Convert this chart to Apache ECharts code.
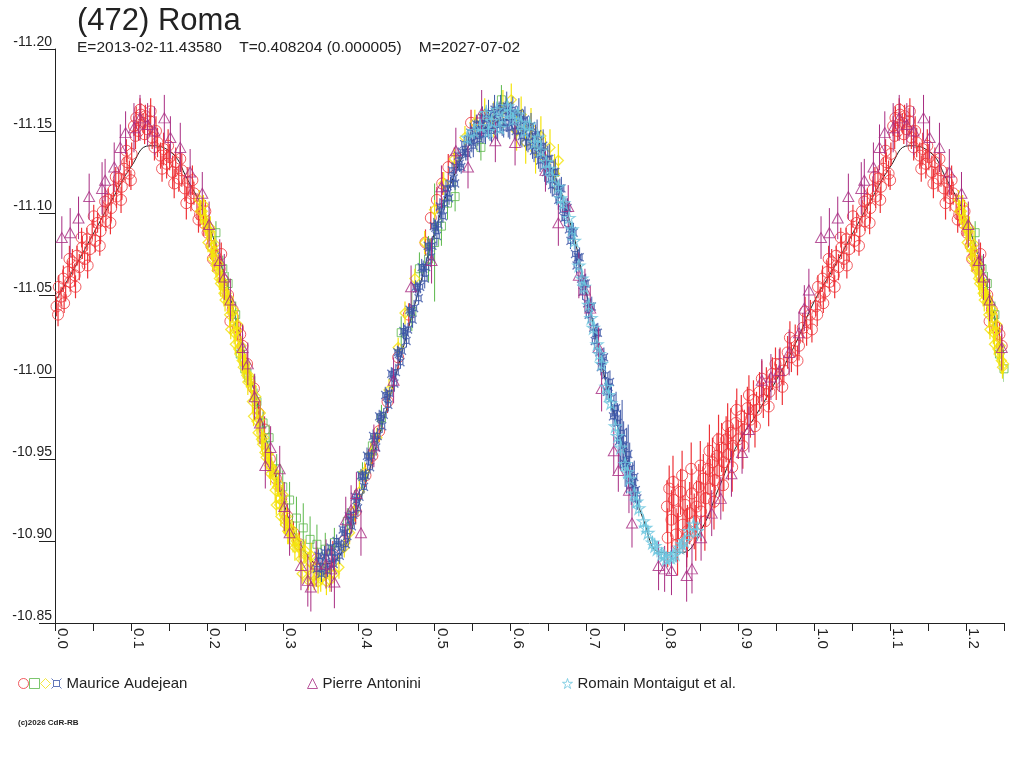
<!DOCTYPE html>
<html>
<head>
<meta charset="utf-8">
<title>(472) Roma</title>
<style type="text/css">
html, body { margin: 0; padding: 0; background: #fff; }
#chart { width: 1024px; height: 768px; }
</style>
<script type="text/javascript" src="https://cdn.jsdelivr.net/npm/echarts@6/dist/echarts.min.js"></script>
</head>
<body>
<div id="chart"></div>
<script type="text/javascript">
// each point: [phase, reduced mag, error]
var audejeanRed = [
	[0.002,-11.043,0.006],[0.005,-11.055,0.007],[0.008,-11.049,0.006],[0.011,-11.060,0.008],[0.014,-11.052,0.006],
	[0.017,-11.064,0.007],[0.020,-11.058,0.006],[0.023,-11.070,0.008],[0.026,-11.062,0.007],[0.029,-11.074,0.006],
	[0.032,-11.067,0.008],[0.036,-11.079,0.007],[0.039,-11.072,0.006],[0.042,-11.084,0.007],[0.046,-11.078,0.008],
	[0.049,-11.090,0.006],[0.053,-11.083,0.007],[0.056,-11.094,0.006],[0.060,-11.089,0.008],[0.063,-11.101,0.007],
	[0.067,-11.095,0.006],[0.070,-11.108,0.007],[0.074,-11.103,0.008],[0.077,-11.114,0.006],[0.081,-11.110,0.007],
	[0.084,-11.121,0.006],[0.088,-11.116,0.008],[0.091,-11.127,0.007],[0.095,-11.131,0.006],[0.098,-11.124,0.008],
	[0.101,-11.136,0.007],[0.104,-11.153,0.006],[0.107,-11.158,0.007],[0.110,-11.150,0.006],[0.113,-11.160,0.007],
	[0.116,-11.155,0.006],[0.119,-11.159,0.007],[0.122,-11.151,0.006],[0.125,-11.156,0.008],[0.128,-11.146,0.007],
	[0.131,-11.140,0.008],[0.135,-11.143,0.009],[0.139,-11.135,0.008],[0.143,-11.139,0.010],[0.147,-11.130,0.009],
	[0.151,-11.134,0.008],[0.155,-11.125,0.010],[0.159,-11.131,0.009],[0.163,-11.121,0.008],[0.167,-11.126,0.010],
	[0.171,-11.115,0.008],[0.175,-11.119,0.009],[0.179,-11.109,0.008],[0.183,-11.112,0.007],[0.187,-11.104,0.008],
	[0.191,-11.099,0.007],[0.196,-11.094,0.008],[0.201,-11.088,0.007],[0.206,-11.080,0.008],[0.211,-11.074,0.007],
	[0.217,-11.066,0.008],[0.222,-11.059,0.007],[0.228,-11.050,0.008],[0.234,-11.041,0.007],[0.241,-11.030,0.008],
	[0.247,-11.019,0.007],
	[0.004,-11.038,0.007],[0.012,-11.045,0.006],[0.019,-11.072,0.008],[0.027,-11.055,0.007],[0.035,-11.085,0.006],
	[0.043,-11.068,0.008],[0.051,-11.098,0.007],[0.059,-11.080,0.006],[0.066,-11.107,0.008],[0.073,-11.094,0.007],
	[0.080,-11.122,0.006],[0.087,-11.108,0.008],[0.094,-11.138,0.007],[0.100,-11.120,0.006],[0.106,-11.147,0.008],
	[0.112,-11.163,0.007],[0.118,-11.148,0.006],[0.126,-11.162,0.008],[0.133,-11.150,0.009],[0.141,-11.127,0.008],
	[0.149,-11.141,0.010],[0.157,-11.118,0.009],[0.165,-11.133,0.008],[0.173,-11.106,0.010],[0.181,-11.120,0.009],
	[0.189,-11.096,0.008],[0.198,-11.101,0.007],[0.208,-11.072,0.008],[0.219,-11.075,0.007],[0.231,-11.034,0.008],
	[0.244,-11.026,0.007],
	[0.253,-11.008,0.007],[0.262,-10.993,0.008],[0.268,-10.978,0.007],[0.276,-10.968,0.008],[0.283,-10.950,0.007],
	[0.291,-10.938,0.008],[0.298,-10.926,0.007],[0.306,-10.915,0.008],[0.314,-10.905,0.007],[0.322,-10.898,0.008],
	[0.345,-10.889,0.007],[0.366,-10.892,0.008],[0.381,-10.900,0.007],[0.396,-10.918,0.008],[0.409,-10.940,0.007],
	[0.418,-10.952,0.008],[0.427,-10.967,0.007],
	[0.438,-10.985,0.007],[0.452,-11.012,0.008],[0.466,-11.038,0.007],[0.488,-11.082,0.008],[0.495,-11.097,0.007],
	[0.503,-11.108,0.008],[0.510,-11.118,0.007],[0.518,-11.128,0.008],[0.526,-11.133,0.007],[0.548,-11.155,0.008],
	[0.556,-11.152,0.007],
	[0.806,-10.921,0.016],[0.809,-10.932,0.014],[0.812,-10.913,0.018],[0.815,-10.925,0.015],[0.818,-10.904,0.016],
	[0.821,-10.918,0.017],[0.824,-10.930,0.014],[0.827,-10.910,0.018],[0.830,-10.922,0.015],[0.833,-10.906,0.016],
	[0.836,-10.917,0.019],[0.839,-10.929,0.015],[0.842,-10.912,0.017],[0.845,-10.921,0.016],[0.848,-10.933,0.014],
	[0.851,-10.918,0.018],[0.854,-10.938,0.015],[0.857,-10.926,0.017],[0.860,-10.944,0.016],[0.863,-10.932,0.018],
	[0.866,-10.948,0.015],[0.869,-10.937,0.017],[0.872,-10.952,0.014],[0.875,-10.943,0.016],[0.878,-10.957,0.015],
	[0.881,-10.948,0.017],[0.884,-10.962,0.014],[0.887,-10.953,0.016],[0.890,-10.966,0.015],[0.893,-10.958,0.013],
	[0.897,-10.972,0.014],[0.900,-10.962,0.012],[0.904,-10.976,0.013],[0.908,-10.968,0.012],[0.912,-10.981,0.013],
	[0.916,-10.974,0.011],[0.920,-10.986,0.012],[0.924,-10.980,0.011],[0.928,-10.991,0.012],[0.933,-10.986,0.011],
	[0.937,-10.996,0.010],[0.941,-10.991,0.011],[0.945,-11.002,0.010],[0.950,-10.997,0.011],[0.955,-11.008,0.010],
	[0.960,-11.004,0.009],[0.965,-11.015,0.010],[0.970,-11.012,0.009],[0.975,-11.022,0.010],[0.980,-11.019,0.009],
	[0.985,-11.030,0.009],[0.990,-11.027,0.008],[0.995,-11.038,0.009],
	[0.807,-10.902,0.018],[0.814,-10.936,0.016],[0.820,-10.898,0.019],[0.826,-10.940,0.015],[0.832,-10.902,0.018],
	[0.838,-10.944,0.016],[0.844,-10.905,0.017],[0.850,-10.946,0.015],[0.856,-10.912,0.018],[0.862,-10.955,0.016],
	[0.868,-10.924,0.017],[0.874,-10.962,0.015],[0.880,-10.934,0.016],[0.886,-10.970,0.014],[0.892,-10.945,0.015],
	[0.898,-10.980,0.013],[0.906,-10.958,0.014],[0.914,-10.989,0.012],[0.922,-10.970,0.013],[0.931,-10.999,0.011],
	[0.940,-10.982,0.012],[0.949,-11.008,0.010],[0.958,-10.994,0.011],[0.968,-11.024,0.010],[0.978,-11.010,0.009],
	[0.988,-11.040,0.009],[0.997,-11.029,0.008]
];
var audejeanGreen = [
	[0.212,-11.088,0.007],[0.221,-11.066,0.008],[0.228,-11.057,0.007],[0.238,-11.038,0.008],[0.244,-11.014,0.007],
	[0.250,-11.005,0.008],[0.258,-10.998,0.007],[0.266,-10.985,0.008],[0.274,-10.972,0.007],[0.282,-10.963,0.008],
	[0.292,-10.944,0.009],[0.300,-10.933,0.010],[0.309,-10.925,0.011],[0.318,-10.914,0.013],[0.327,-10.908,0.015],
	[0.336,-10.901,0.014],[0.345,-10.898,0.012],[0.356,-10.895,0.010],[0.368,-10.899,0.009],[0.385,-10.912,0.008],
	[0.405,-10.940,0.008],[0.418,-10.958,0.007],[0.430,-10.975,0.008],[0.456,-11.027,0.010],[0.470,-11.040,0.012],
	[0.480,-11.066,0.010],[0.492,-11.072,0.014],[0.500,-11.082,0.036],[0.509,-11.092,0.012],[0.517,-11.106,0.010],
	[0.527,-11.110,0.009],[0.561,-11.140,0.008],[0.588,-11.169,0.009]
];
var audejeanYellow = [
	[0.190,-11.108,0.006],[0.194,-11.101,0.008],[0.197,-11.097,0.006],[0.200,-11.091,0.007],[0.203,-11.089,0.006],
	[0.206,-11.079,0.008],[0.209,-11.077,0.006],[0.212,-11.068,0.007],[0.215,-11.069,0.006],[0.218,-11.057,0.008],
	[0.221,-11.058,0.006],[0.224,-11.047,0.007],[0.227,-11.049,0.006],[0.230,-11.038,0.008],[0.233,-11.039,0.006],
	[0.236,-11.027,0.007],[0.239,-11.028,0.006],[0.242,-11.017,0.008],[0.245,-11.019,0.006],[0.248,-11.006,0.007],
	[0.251,-11.008,0.006],[0.254,-10.997,0.008],[0.257,-10.997,0.006],[0.260,-10.985,0.007],[0.263,-10.986,0.006],
	[0.266,-10.973,0.008],[0.269,-10.974,0.006],[0.272,-10.962,0.007],[0.275,-10.963,0.006],[0.278,-10.951,0.008],
	[0.281,-10.953,0.006],[0.284,-10.941,0.007],[0.287,-10.943,0.006],[0.290,-10.931,0.008],[0.293,-10.933,0.006],
	[0.296,-10.922,0.007],[0.299,-10.924,0.006],[0.302,-10.913,0.008],[0.305,-10.915,0.006],[0.308,-10.905,0.007],
	[0.312,-10.907,0.006],[0.316,-10.896,0.008],[0.320,-10.899,0.006],[0.324,-10.889,0.007],[0.328,-10.892,0.006],
	[0.332,-10.883,0.008],[0.336,-10.887,0.006],[0.340,-10.879,0.007],[0.345,-10.884,0.006],[0.350,-10.877,0.008],
	[0.356,-10.882,0.006],[0.362,-10.876,0.007],[0.368,-10.880,0.006],[0.374,-10.884,0.007],
	[0.1915,-11.101,0.007],[0.1955,-11.105,0.006],[0.1985,-11.094,0.008],[0.2015,-11.082,0.006],[0.2045,-11.091,0.007],
	[0.2075,-11.072,0.006],[0.2105,-11.081,0.008],[0.2135,-11.065,0.006],[0.2165,-11.060,0.007],[0.2195,-11.059,0.006],
	[0.2225,-11.051,0.008],[0.2255,-11.051,0.006],[0.2285,-11.046,0.007],[0.2315,-11.029,0.006],[0.2345,-11.041,0.008],
	[0.2375,-11.020,0.006],[0.2405,-11.032,0.007],[0.2435,-11.014,0.006],[0.2465,-11.010,0.008],[0.2495,-11.008,0.006],
	[0.2525,-11.001,0.007],[0.2555,-11.001,0.006],[0.2585,-10.994,0.008],[0.2615,-10.976,0.006],[0.2645,-10.988,0.007],
	[0.2675,-10.966,0.006],[0.2705,-10.978,0.008],[0.2735,-10.959,0.006],[0.2765,-10.954,0.007],[0.2795,-10.953,0.006],
	[0.2825,-10.946,0.008],[0.2855,-10.945,0.006],[0.2885,-10.940,0.007],[0.2915,-10.922,0.006],[0.2945,-10.935,0.008],
	[0.2975,-10.915,0.006],[0.3005,-10.928,0.007],[0.3035,-10.910,0.006],[0.3065,-10.906,0.008],[0.3095,-10.907,0.006],
	[0.3135,-10.900,0.007],[0.3175,-10.900,0.006],[0.3215,-10.896,0.008],[0.3255,-10.880,0.006],[0.3295,-10.894,0.007],
	[0.3335,-10.876,0.006],[0.3375,-10.891,0.008],[0.3415,-10.876,0.006],[0.3465,-10.875,0.007],[0.3515,-10.879,0.006],
	[0.3575,-10.875,0.008],[0.3635,-10.880,0.006],
	[0.381,-10.896,0.006],[0.388,-10.905,0.007],[0.394,-10.918,0.006],[0.401,-10.930,0.007],[0.408,-10.942,0.006],
	[0.416,-10.953,0.007],[0.424,-10.963,0.006],[0.440,-10.992,0.007],[0.452,-11.018,0.006],[0.461,-11.039,0.007],
	[0.474,-11.060,0.006],[0.487,-11.082,0.007],[0.500,-11.102,0.006],[0.512,-11.118,0.007],[0.526,-11.133,0.006],
	[0.540,-11.146,0.007],[0.553,-11.155,0.008],
	[0.566,-11.160,0.010],[0.578,-11.157,0.011],[0.590,-11.163,0.012],[0.601,-11.169,0.010],[0.608,-11.150,0.012],
	[0.614,-11.160,0.011],[0.620,-11.143,0.013],[0.627,-11.152,0.012],[0.633,-11.138,0.014],[0.640,-11.147,0.012],
	[0.646,-11.133,0.013],[0.652,-11.140,0.011],[0.658,-11.124,0.012],[0.663,-11.132,0.010]
];
var audejeanBlue = [
	[0.345,-10.883,0.004],[0.349,-10.888,0.004],[0.353,-10.884,0.005],[0.357,-10.890,0.004],[0.361,-10.886,0.004],
	[0.365,-10.893,0.005],[0.369,-10.890,0.004],[0.373,-10.898,0.004],[0.377,-10.896,0.005],[0.381,-10.905,0.004],
	[0.385,-10.903,0.004],[0.389,-10.913,0.005],[0.393,-10.916,0.004],[0.397,-10.925,0.004],[0.401,-10.927,0.005],
	[0.405,-10.939,0.004],[0.409,-10.940,0.004],[0.413,-10.951,0.005],[0.417,-10.952,0.004],[0.421,-10.962,0.004],
	[0.425,-10.964,0.005],[0.429,-10.975,0.004],[0.433,-10.977,0.004],[0.437,-10.988,0.005],[0.441,-10.990,0.004],
	[0.445,-11.001,0.004],[0.449,-11.003,0.005],[0.453,-11.014,0.004],[0.457,-11.016,0.004],[0.461,-11.027,0.005],
	[0.465,-11.029,0.004],[0.469,-11.040,0.004],[0.473,-11.042,0.005],[0.477,-11.054,0.004],[0.481,-11.055,0.004],
	[0.485,-11.066,0.005],[0.489,-11.067,0.006],[0.493,-11.079,0.005],[0.497,-11.080,0.006],[0.501,-11.091,0.005],
	[0.505,-11.093,0.006],[0.509,-11.102,0.005],[0.513,-11.106,0.004],[0.517,-11.112,0.005],[0.521,-11.118,0.004],
	[0.525,-11.121,0.005],[0.529,-11.128,0.004],[0.533,-11.130,0.005],[0.537,-11.137,0.004],[0.541,-11.137,0.005],
	[0.545,-11.145,0.004],[0.549,-11.143,0.006],[0.553,-11.150,0.007],[0.557,-11.147,0.006],[0.561,-11.154,0.008],
	[0.565,-11.150,0.007],[0.569,-11.157,0.006],[0.573,-11.152,0.008],[0.577,-11.160,0.007],[0.581,-11.154,0.009],
	[0.585,-11.161,0.007],[0.589,-11.155,0.008],[0.593,-11.162,0.006],[0.597,-11.155,0.009],[0.601,-11.161,0.007],
	[0.605,-11.153,0.008],[0.609,-11.159,0.006],[0.613,-11.150,0.009],[0.617,-11.156,0.007],[0.621,-11.146,0.008],
	[0.625,-11.152,0.006],[0.629,-11.141,0.008],[0.633,-11.147,0.007],[0.637,-11.136,0.009],[0.641,-11.140,0.007],
	[0.645,-11.129,0.010],[0.649,-11.133,0.008],[0.653,-11.121,0.009],[0.657,-11.125,0.007],[0.661,-11.113,0.008],
	[0.665,-11.115,0.006],[0.669,-11.102,0.007],[0.673,-11.104,0.005],[0.677,-11.090,0.006],[0.681,-11.089,0.005],
	[0.685,-11.075,0.006],[0.689,-11.073,0.005],[0.693,-11.060,0.006],[0.697,-11.057,0.005],[0.701,-11.045,0.006],
	[0.705,-11.043,0.005],[0.709,-11.030,0.006],[0.713,-11.027,0.005],[0.717,-11.015,0.006],[0.721,-11.010,0.005],
	[0.725,-11.001,0.006],[0.729,-10.994,0.005],[0.733,-10.987,0.007],[0.737,-10.978,0.006],[0.741,-10.972,0.012],
	[0.745,-10.962,0.018],[0.749,-10.958,0.015],[0.753,-10.949,0.020],[0.757,-10.944,0.016],[0.761,-10.936,0.012],
	[0.765,-10.931,0.008],
	[0.347,-10.891,0.004],[0.351,-10.880,0.005],[0.355,-10.893,0.004],[0.359,-10.882,0.004],[0.363,-10.896,0.005],
	[0.367,-10.886,0.004],[0.371,-10.900,0.004],[0.375,-10.891,0.005],[0.379,-10.907,0.004],[0.383,-10.898,0.004],
	[0.387,-10.915,0.005],[0.391,-10.909,0.004],[0.395,-10.927,0.004],[0.399,-10.920,0.005],[0.403,-10.940,0.004],
	[0.407,-10.933,0.004],[0.411,-10.952,0.005],[0.415,-10.945,0.004],[0.419,-10.964,0.004],[0.423,-10.957,0.005],
	[0.427,-10.976,0.004],[0.431,-10.970,0.004],[0.435,-10.989,0.005],[0.439,-10.983,0.004],[0.443,-11.002,0.004],
	[0.447,-10.996,0.005],[0.451,-11.015,0.004],[0.455,-11.009,0.004],[0.459,-11.028,0.005],[0.463,-11.022,0.004],
	[0.467,-11.041,0.004],[0.471,-11.035,0.005],[0.475,-11.055,0.004],[0.479,-11.048,0.004],[0.483,-11.067,0.005],
	[0.487,-11.060,0.006],[0.491,-11.080,0.005],[0.495,-11.073,0.006],[0.499,-11.092,0.005],[0.503,-11.086,0.006],
	[0.507,-11.104,0.005],[0.511,-11.098,0.004],[0.515,-11.115,0.005],[0.519,-11.109,0.004],[0.523,-11.126,0.005],
	[0.527,-11.118,0.004],[0.531,-11.135,0.005],[0.535,-11.128,0.004],[0.539,-11.142,0.005],[0.543,-11.136,0.004],
	[0.547,-11.149,0.006],[0.551,-11.141,0.007],[0.555,-11.154,0.006],[0.559,-11.145,0.008],[0.563,-11.158,0.007],
	[0.567,-11.148,0.006],[0.571,-11.161,0.008],[0.575,-11.150,0.007],[0.579,-11.163,0.009],[0.583,-11.151,0.007],
	[0.587,-11.164,0.008],[0.591,-11.152,0.006],[0.595,-11.165,0.009],[0.599,-11.152,0.007],[0.603,-11.163,0.008],
	[0.607,-11.150,0.006],[0.611,-11.161,0.009],[0.615,-11.147,0.007],[0.619,-11.157,0.008],[0.623,-11.143,0.006],
	[0.627,-11.153,0.008],[0.631,-11.138,0.007],[0.635,-11.148,0.009],[0.639,-11.132,0.007],[0.643,-11.141,0.010],
	[0.647,-11.125,0.008],[0.651,-11.133,0.009],[0.655,-11.117,0.007],[0.659,-11.125,0.008],[0.663,-11.108,0.006],
	[0.667,-11.115,0.007],[0.671,-11.097,0.005],[0.675,-11.103,0.006],[0.679,-11.083,0.005],[0.683,-11.088,0.006],
	[0.687,-11.068,0.005],[0.691,-11.073,0.006],[0.695,-11.052,0.005],[0.699,-11.057,0.006],[0.703,-11.038,0.005],
	[0.707,-11.043,0.006],[0.711,-11.022,0.005],[0.715,-11.027,0.006],[0.719,-11.006,0.005],[0.723,-11.012,0.006],
	[0.727,-10.991,0.005],[0.731,-10.997,0.007],[0.735,-10.976,0.006],[0.739,-10.981,0.010],[0.743,-10.961,0.016],
	[0.747,-10.966,0.020],[0.751,-10.947,0.014],[0.755,-10.953,0.018],[0.759,-10.934,0.012],[0.763,-10.939,0.010],
	[0.767,-10.926,0.007]
];
var antonini = [
	[0.009,-11.085,0.013],[0.020,-11.088,0.015],[0.031,-11.097,0.013],[0.045,-11.110,0.014],[0.062,-11.115,0.016],
	[0.066,-11.120,0.013],[0.078,-11.128,0.015],[0.086,-11.140,0.014],[0.093,-11.149,0.013],[0.104,-11.152,0.015],
	[0.112,-11.158,0.014],[0.122,-11.154,0.013],[0.131,-11.150,0.015],[0.144,-11.158,0.014],[0.152,-11.146,0.013],
	[0.165,-11.140,0.015],[0.178,-11.125,0.014],[0.194,-11.112,0.013],[0.203,-11.093,0.014],[0.217,-11.071,0.013],
	[0.223,-11.061,0.014],[0.231,-11.047,0.013],[0.247,-11.018,0.014],[0.254,-11.008,0.013],[0.263,-10.988,0.014],
	[0.270,-10.972,0.013],[0.277,-10.946,0.014],[0.284,-10.957,0.013],[0.296,-10.944,0.014],[0.302,-10.921,0.015],
	[0.309,-10.905,0.014],[0.324,-10.885,0.015],[0.333,-10.876,0.016],[0.337,-10.872,0.015],[0.344,-10.886,0.014],
	[0.357,-10.886,0.015],[0.364,-10.883,0.014],[0.368,-10.875,0.016],[0.383,-10.913,0.014],[0.390,-10.919,0.015],
	[0.397,-10.929,0.013],[0.403,-10.905,0.014],[0.420,-10.958,0.013],[0.446,-10.998,0.014],[0.469,-11.055,0.013],
	[0.496,-11.071,0.014],[0.509,-11.116,0.013],[0.528,-11.138,0.014],[0.544,-11.128,0.013],[0.562,-11.161,0.014],
	[0.580,-11.144,0.013],[0.606,-11.143,0.014],[0.646,-11.126,0.013],[0.663,-11.094,0.014],[0.676,-11.104,0.013],
	[0.690,-11.062,0.014],[0.698,-11.053,0.013],[0.705,-11.042,0.014],[0.716,-11.018,0.013],[0.720,-10.993,0.014],
	[0.736,-10.955,0.014],[0.742,-10.943,0.013],[0.756,-10.931,0.014],[0.760,-10.911,0.015],[0.795,-10.885,0.015],
	[0.803,-10.883,0.014],[0.812,-10.882,0.015],[0.832,-10.879,0.016],[0.839,-10.883,0.015],[0.851,-10.902,0.014],
	[0.865,-10.917,0.014],[0.877,-10.926,0.013],[0.891,-10.941,0.014],[0.905,-10.954,0.013],[0.914,-10.968,0.014],
	[0.931,-10.998,0.013],[0.943,-11.000,0.014],[0.954,-11.004,0.013],[0.967,-11.015,0.014],[0.980,-11.027,0.013],
	[0.987,-11.042,0.014],[0.993,-11.053,0.013]
];
var montaigut = [
	[0.543,-11.146,0.004],[0.552,-11.150,0.005],[0.560,-11.153,0.004],[0.568,-11.161,0.005],[0.575,-11.156,0.004],
	[0.582,-11.163,0.005],[0.589,-11.158,0.004],[0.596,-11.165,0.005],[0.603,-11.157,0.004],[0.610,-11.160,0.005],
	[0.618,-11.150,0.004],[0.625,-11.154,0.005],[0.632,-11.143,0.004],[0.640,-11.138,0.005],[0.647,-11.131,0.004],
	[0.655,-11.122,0.005],[0.663,-11.116,0.004],[0.670,-11.106,0.005],[0.677,-11.097,0.004],[0.684,-11.083,0.005],
	[0.690,-11.068,0.004],[0.697,-11.055,0.005],[0.703,-11.044,0.004],[0.709,-11.030,0.005],[0.714,-11.020,0.004],
	[0.720,-11.008,0.005],[0.726,-10.994,0.004],[0.732,-10.984,0.005],[0.738,-10.970,0.004],[0.745,-10.957,0.005],
	[0.751,-10.947,0.004],[0.757,-10.938,0.005],[0.763,-10.929,0.004],[0.769,-10.920,0.005],[0.775,-10.912,0.004],
	[0.781,-10.905,0.005],[0.787,-10.899,0.004],[0.793,-10.895,0.005],[0.799,-10.892,0.004],[0.805,-10.889,0.005],
	[0.811,-10.890,0.004],[0.817,-10.892,0.005],[0.823,-10.896,0.004],[0.829,-10.900,0.005],[0.835,-10.906,0.006],
	[0.841,-10.910,0.005],[0.846,-10.906,0.006],
	[0.571,-11.150,0.005],[0.586,-11.152,0.004],[0.600,-11.162,0.005],[0.614,-11.155,0.004],[0.636,-11.146,0.005],
	[0.651,-11.127,0.004],[0.666,-11.109,0.005],[0.681,-11.090,0.004],[0.694,-11.060,0.005],[0.706,-11.036,0.004],
	[0.717,-11.014,0.005],[0.729,-10.989,0.004],[0.741,-10.964,0.005],[0.754,-10.942,0.004],[0.766,-10.924,0.005],
	[0.778,-10.908,0.004],[0.790,-10.897,0.005],[0.802,-10.891,0.004],[0.814,-10.891,0.005],[0.826,-10.898,0.004]
];
// fourier fit, [phase, mag]
var fitCurve = [
	[0.000,-11.046],[0.025,-11.066],[0.050,-11.087],[0.075,-11.108],[0.100,-11.128],[0.125,-11.141],
	[0.150,-11.138],[0.175,-11.120],[0.200,-11.096],[0.225,-11.058],[0.250,-11.014],[0.275,-10.968],
	[0.300,-10.925],[0.325,-10.897],[0.350,-10.886],[0.375,-10.891],[0.400,-10.922],[0.425,-10.961],
	[0.450,-11.003],[0.475,-11.046],[0.500,-11.088],[0.525,-11.122],[0.550,-11.144],[0.575,-11.154],
	[0.600,-11.157],[0.625,-11.150],[0.650,-11.131],[0.675,-11.100],[0.700,-11.051],[0.725,-10.998],
	[0.750,-10.955],[0.775,-10.913],[0.800,-10.893],[0.825,-10.893],[0.850,-10.906],[0.875,-10.933],
	[0.900,-10.960],[0.925,-10.978],[0.950,-10.998],[0.975,-11.020]
];
var titleText = '(472) Roma';
var infoText = 'E=2013-02-11.43580    T=0.408204 (0.000005)    M=2027-07-02';
var observers = ['Maurice Audejean', 'Pierre Antonini', 'Romain Montaigut et al.'];
var copyText = '(c)2026 CdR-RB';

var FONT = '"Liberation Sans", Arial, sans-serif', INK = '#222';
var STAR = 'path://M5,0L6.2,3.8L10,3.8L6.9,6.1L8.1,10L5,7.6L1.9,10L3.1,6.1L0,3.8L3.8,3.8Z';
var CURR = 'path://M2,2L8,2L8,8L2,8Z M0,0L2,2 M10,0L8,2 M0,10L2,8 M10,10L8,8';

// phases 0 - 0.25 are drawn again after 1.0
function rep(a) {
	return a.concat(a.filter(function (d) { return d[0] <= 0.25; })
		.map(function (d) { return [d[0] + 1].concat(d.slice(1)); }));
}

function errBars(data, color, z, lw) {
	return {
		type: 'custom', name: 'err', data: rep(data), z: z, clip: true, silent: true,
		renderItem: function (params, api) {
			var x = api.value(0), y = api.value(1), e = api.value(2);
			var a = api.coord([x, y - e]), b = api.coord([x, y + e]);
			return { type: 'line', shape: { x1: a[0], y1: a[1], x2: b[0], y2: b[1] },
				style: { stroke: color, lineWidth: lw || 1 } };
		}
	};
}

function dots(name, data, color, symbol, size, z, bw) {
	return {
		type: 'scatter', name: name, data: rep(data), symbol: symbol, symbolSize: size, z: z,
		clip: true, silent: true,
		itemStyle: { color: 'rgba(255,255,255,0)', borderColor: color, borderWidth: bw || 1 }
	};
}

function legendAt(left, names, gap) {
	return {
		left: left, top: 676, padding: 0, itemGap: gap, itemWidth: 10, itemHeight: 10, data: names,
		formatter: function (n) { return n.indexOf('Audejean ') === 0 ? '' : n; },
		textStyle: { fontSize: 15, color: INK, fontFamily: FONT },
		itemStyle: { borderWidth: 1 }
	};
}

var C = { red: '#ee3338', green: '#5bb84a', yellow: '#f4e40c', blue: '#3b55a6', purple: '#a82c82', cyan: '#6cc6de' };

var chart = echarts.init(document.getElementById('chart'));
chart.setOption({
	animation: false,
	backgroundColor: '#fff',
	textStyle: { fontFamily: FONT, color: INK },
	title: {
		text: titleText, left: 77, top: 6, padding: 0,
		textStyle: { fontSize: 31, fontWeight: 'normal', color: INK, fontFamily: FONT }
	},
	grid: { left: 55, right: 20, top: 49, bottom: 145 },
	xAxis: {
		type: 'value', min: 0, max: 1.25, interval: 0.05,
		splitLine: { show: false },
		axisLine: { lineStyle: { color: INK, width: 1 } },
		axisTick: { length: 8, lineStyle: { color: INK } },
		axisLabel: {
			rotate: -90, verticalAlign: 'bottom', margin: 5, fontSize: 15, color: INK, fontFamily: FONT,
			formatter: function (v) { return Math.round(v * 100) % 10 === 0 ? v.toFixed(1) : ''; }
		}
	},
	yAxis: {
		type: 'value', min: -11.20, max: -10.85, interval: 0.05, inverse: true,
		splitLine: { show: false },
		axisLine: { show: true, lineStyle: { color: INK, width: 1 } },
		axisTick: { show: true, length: 16, lineStyle: { color: INK } },
		axisLabel: {
			verticalAlign: 'bottom', margin: 3, fontSize: 14, color: INK, fontFamily: FONT,
			formatter: function (v) { return v.toFixed(2); }
		}
	},
	legend: [
		legendAt(18, ['Audejean A', 'Audejean B', 'Audejean C', observers[0]], 0),
		legendAt(307, [observers[1]], 10),
		legendAt(562, [observers[2]], 10)
	],
	graphic: [
		{ type: 'text', left: 77, top: 40, style: { text: infoText, font: '15.5px ' + FONT, fill: INK } },
		{ type: 'text', left: 18, top: 719, style: { text: copyText, font: 'bold 8px ' + FONT, fill: INK } }
	],
	series: [
		{
			type: 'line', name: 'fit', data: rep(fitCurve).concat([[1.0, -11.046]]).sort(function (a, b) { return a[0] - b[0]; }),
			smooth: true, showSymbol: false, silent: true, z: 1,
			lineStyle: { color: INK, width: 1 }
		},
		errBars(audejeanRed, C.red, 2, 1.2), dots('Audejean A', audejeanRed, C.red, 'circle', 11, 3),
		errBars(audejeanGreen, C.green, 4), dots('Audejean B', audejeanGreen, C.green, 'rect', 8, 5),
		errBars(audejeanYellow, C.yellow, 6, 1.2), dots('Audejean C', audejeanYellow, C.yellow, 'diamond', 10, 7, 1.3),
		errBars(audejeanBlue, C.blue, 8), dots(observers[0], audejeanBlue, C.blue, CURR, 8, 9, 1.3),
		errBars(antonini, C.purple, 10), dots(observers[1], antonini, C.purple, 'triangle', [11, 10], 11),
		errBars(montaigut, C.cyan, 12), dots(observers[2], montaigut, C.cyan, STAR, 12, 13, 1.2)
	]
});
</script>
</body>
</html>
